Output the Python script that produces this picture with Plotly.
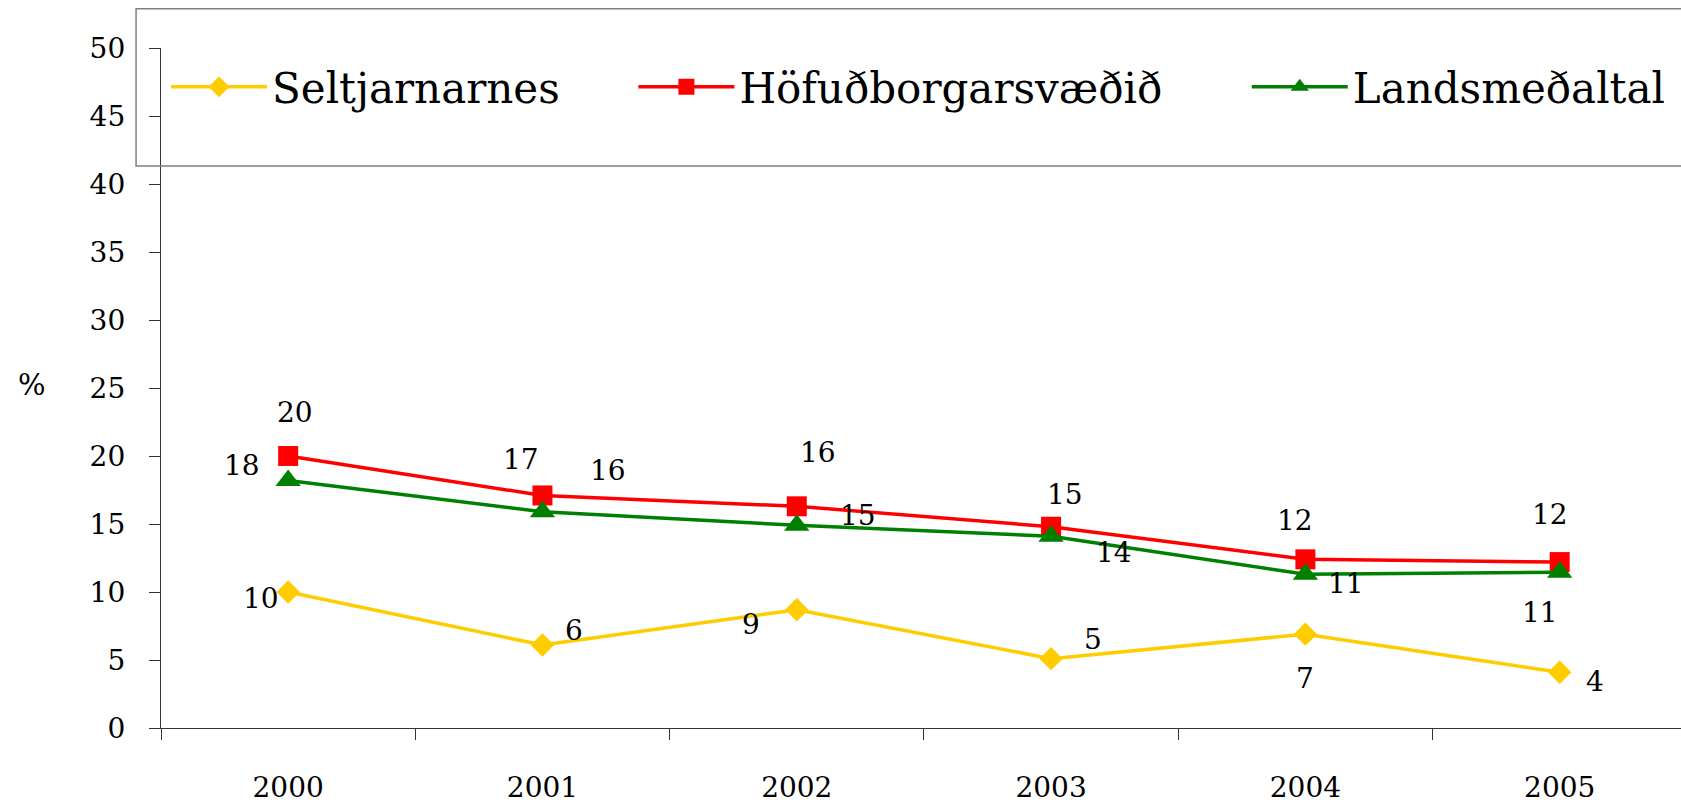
import plotly.graph_objects as go

years = ["2000", "2001", "2002", "2003", "2004", "2005"]
seltjarnarnes = [10.0, 6.1, 8.7, 5.1, 6.9, 4.1]
hofudborgarsvaedid = [20.0, 17.1, 16.3, 14.8, 12.4, 12.2]
landsmedaltal = [18.2, 15.9, 14.9, 14.1, 11.3, 11.45]

series_names = ["Seltjarnarnes", "Höfuðborgarsvæðið", "Landsmeðaltal"]
y_ticks = [0, 5, 10, 15, 20, 25, 30, 35, 40, 45, 50]

FONT = "DejaVu Serif"
colors = ["#FFCC00", "#FF0000", "#008000"]
symbols = ["diamond", "square", "triangle-up"]
msizes = [18, 20, 22]
legend_ids = ["legend", "legend2", "legend3"]
legend_x = [0.0033, 0.3108, 0.7143]

# label offsets (px) for each series, per point: (xshift, yshift)
label_offsets = [
    [(-27, -6), (32, 15), (-46, -15), (42, 19), (0, -44), (35, -9)],
    [(7, 44), (-21, 36), (21, 54), (14, 32), (-10, 39), (-10, 48)],
    [(-46, 15), (66, 41), (61, 10), (63, -16), (41, -9), (-20, -40)],
]

fig = go.Figure()
all_series = [seltjarnarnes, hofudborgarsvaedid, landsmedaltal]
for name, vals, c, s, ms, lg in zip(series_names, all_series, colors, symbols, msizes, legend_ids):
    fig.add_trace(go.Scatter(
        x=years, y=vals, name=name, mode="lines+markers",
        line=dict(color=c, width=3.5),
        marker=dict(symbol=s, size=ms, color=c),
        legend=lg,
    ))

annotations = []
for vals, offs in zip(all_series, label_offsets):
    for i, (yv, (dx, dy)) in enumerate(zip(vals, offs)):
        annotations.append(dict(
            x=i, y=yv, xref="x", yref="y", text=f"{yv:.0f}",
            showarrow=False, xshift=dx, yshift=dy,
            font=dict(family=FONT, size=28, color="black"),
        ))

annotations.append(dict(
    x=0, y=25, xref="paper", yref="y", text="%", showarrow=False,
    xanchor="center", xshift=-129, yshift=3,
    font=dict(family=FONT, size=29, color="black"),
))

legend_common = dict(
    orientation="h", y=0.9426, xanchor="left", yanchor="middle",
    font=dict(family=FONT, size=42, color="black"),
    itemwidth=96, bgcolor="rgba(0,0,0,0)", borderwidth=0,
)

fig.update_layout(
    width=1681, height=803,
    margin=dict(l=161, r=0, t=48, b=75, pad=0),
    paper_bgcolor="white", plot_bgcolor="white",
    font=dict(family=FONT, color="black"),
    showlegend=True,
    legend=dict(x=legend_x[0], **legend_common),
    legend2=dict(x=legend_x[1], **legend_common),
    legend3=dict(x=legend_x[2], **legend_common),
    annotations=annotations,
    shapes=[dict(
        type="rect", xref="paper", yref="paper",
        x0=-0.0164, x1=1.02, y0=0.8265, y1=1.0579,
        line=dict(color="#7f7f7f", width=1.5), fillcolor="rgba(0,0,0,0)",
    )],
    xaxis=dict(
        type="category", range=[-0.5, 5.477],
        tickson="boundaries", ticks="outside", ticklen=11, tickcolor="#333",
        showline=True, linecolor="#333", linewidth=1.3, showgrid=False,
        tickfont=dict(family=FONT, size=28), ticklabelstandoff=34,
    ),
    yaxis=dict(
        range=[0, 50], tickvals=y_ticks, ticks="outside", ticklen=11,
        tickcolor="#333", showline=True, linecolor="#333", linewidth=1.3,
        showgrid=False, zeroline=False,
        tickfont=dict(family=FONT, size=28), ticklabelstandoff=18,
    ),
)

fig.write_html(
    "out.html",
    config={"displayModeBar": False},
    post_script="document.body.style.margin='0';document.body.style.overflow='hidden';",
)
